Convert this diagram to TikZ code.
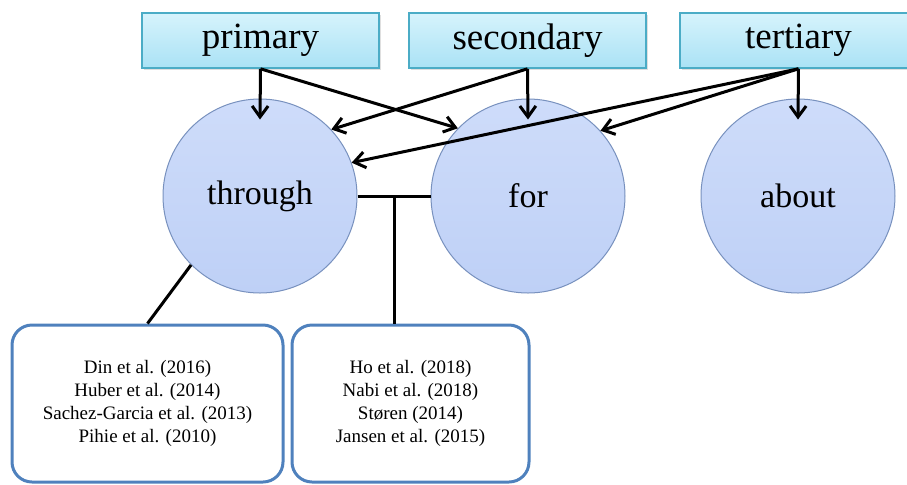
\documentclass[tikz,border=0pt]{standalone}
\usepackage{fontspec}
\setmainfont{Liberation Serif}
\usetikzlibrary{calc,arrows.meta,shadows}

\definecolor{leveltop}{RGB}{214,243,252}
\definecolor{levelbot}{RGB}{170,226,245}
\definecolor{levelline}{RGB}{75,172,198}
\definecolor{modetop}{RGB}{206,220,250}
\definecolor{modebot}{RGB}{190,208,246}
\definecolor{modeline}{RGB}{120,145,190}
\definecolor{refsline}{RGB}{79,129,189}

\begin{document}
\begin{tikzpicture}[x=0.5pt,y=-0.5pt,
  level/.style={draw=levelline,line width=0.8pt,top color=leveltop,bottom color=levelbot,
    minimum width=118.5pt,minimum height=27.5pt,inner sep=0pt,
    font=\fontsize{18.5}{20}\selectfont,
    drop shadow={shadow xshift=0.8pt,shadow yshift=-0.8pt,opacity=0.25}},
  mode/.style={circle,draw=modeline,line width=0.5pt,top color=modetop,bottom color=modebot,
    minimum size=97pt,inner sep=0pt,font=\fontsize{17}{20}\selectfont},
  refs/.style={draw=refsline,line width=1.5pt,rounded corners=10pt,fill=white,
    align=center,inner sep=0pt,minimum height=78.5pt,font=\fontsize{9.5}{11.5}\selectfont},
  arr/.style={-{Straight Barb[length=5.5pt,width=8pt]},line width=1.5pt},
  link/.style={line width=1.5pt}]

\useasboundingbox (0,0) rectangle (907,484);
\clip (0,0) rectangle (907,484);

% levels
\node [level] (primary) at (260.5,40.5) {primary};
\node [level] (secondary) at (527.5,40.5) {secondary};
\node [level] (tertiary) at (798.5,40.5) {tertiary};

% modes
\node [mode] (through) at (260,196) {through};
\node [mode] (for) at (528,196) {for};
\node [mode] (about) at (798,196) {about};

% references
\node [refs,minimum width=135.5pt] (throughrefs) at (147.5,403.5)
  {Din et al. (2016)\\Huber et al. (2014)\\Sachez-Garcia et al. (2013)\\Pihie et al. (2010)};
\node [refs,minimum width=118.5pt] (forrefs) at (410.5,403.5)
  {Ho et al. (2018)\\Nabi et al. (2018)\\Støren (2014)\\Jansen et al. (2015)};

\draw [link] (through.east) -- (for.west);
\coordinate (split) at (394,196);
\draw [link] (split) -- (split |- forrefs.north);
\draw [link] (through.225) -- (throughrefs.north);

\draw [arr] (primary.south) -- ([yshift=-10.5pt]through.north);
\draw [arr] (primary.south) -- (for.136);
\draw [arr] (secondary.south) -- ([yshift=-10.5pt]for.north);
\draw [arr] (secondary.south) -- (through.43);
\draw [arr] (tertiary.south) -- ([yshift=-10.5pt]about.north);
\draw [arr] (tertiary.south) -- (for.42);
\draw [arr] (tertiary.south) -- (through.20);

\end{tikzpicture}
\end{document}
